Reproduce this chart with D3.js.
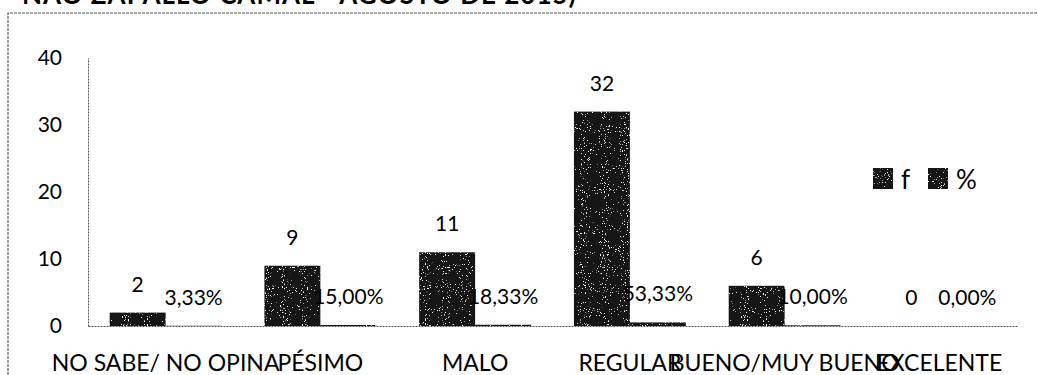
<!DOCTYPE html>
<html>
<head>
<meta charset="utf-8">
<script src="https://cdn.jsdelivr.net/npm/d3@7"></script>
<style>
  html, body { margin: 0; padding: 0; background: #fff; }
  svg { display: block; }
  text { font-family: Lato, "Open Sans", sans-serif; fill: #000; }
</style>
</head>
<body>
<svg id="chart" width="1038" height="375"></svg>
<script>
// Survey answers and their counts / shares
const categories = ["NO SABE/ NO OPINA", "PÉSIMO", "MALO", "REGULAR", "BUENO/MUY BUENO", "EXCELENTE"];
const freq = [2, 9, 11, 32, 6, 0];
const pct = [0.0333, 0.15, 0.1833, 0.5333, 0.10, 0.0];
const series = ["f", "%"];
const yTicks = [0, 10, 20, 30, 40];
const titleText = "ÑAO ZAPALLO CAMAL - AGOSTO DE 2015)";

const svg = d3.select("#chart");
const W = 1038, H = 375;
const plot = { left: 88, right: 1017, top: 58, bottom: 326 };

// Grainy print-like texture for the bars
const defs = svg.append("defs");
const grain = defs.append("filter").attr("id", "grain")
  .attr("x", 0).attr("y", 0).attr("width", 1).attr("height", 1);
grain.append("feTurbulence").attr("type", "fractalNoise")
  .attr("baseFrequency", 0.95).attr("numOctaves", 2).attr("seed", 4).attr("result", "noise");
grain.append("feColorMatrix").attr("in", "noise").attr("type", "matrix")
  .attr("values", "0 0 0 0 1  0 0 0 0 1  0 0 0 0 1  14 0 0 0 -9.4").attr("result", "dots");
grain.append("feComposite").attr("in", "dots").attr("in2", "SourceGraphic")
  .attr("operator", "in").attr("result", "spk");
grain.append("feMerge").call(m => {
  m.append("feMergeNode").attr("in", "SourceGraphic");
  m.append("feMergeNode").attr("in", "spk");
});

// Chart frame (top and left edge visible)
svg.append("path")
  .attr("d", `M8,${H} L8,13 L${W},13`)
  .attr("fill", "none").attr("stroke", "#555").attr("stroke-width", 1.2)
  .attr("stroke-dasharray", "3,1");

// Title line running off the top edge
svg.append("text")
  .attr("x", 22).attr("y", 4)
  .attr("font-size", 26).attr("font-weight", "bold")
  .attr("letter-spacing", 1)
  .text(titleText);

// Scales
const x0 = d3.scaleBand().domain(categories)
  .range([plot.left, plot.right]).paddingInner(0.277).paddingOuter(0.14);
const x1 = d3.scaleBand().domain(series).range([0, x0.bandwidth()]);
const y = d3.scaleLinear().domain([0, 40]).range([plot.bottom, plot.top]);

// Y axis: labels only, plus the axis line
const yAxis = d3.axisLeft(y).tickValues(yTicks).tickSize(0).tickPadding(26).tickFormat(d3.format("d"));
const gy = svg.append("g").attr("transform", `translate(${plot.left},0)`).call(yAxis);
gy.select(".domain").attr("stroke", "#555").attr("stroke-dasharray", "2,1");
gy.selectAll("text").attr("font-size", 21).attr("font-family", "Lato, sans-serif").attr("fill", "#000");

// X axis line and category labels
const xAxis = d3.axisBottom(x0).tickSize(0).tickPadding(29);
const gx = svg.append("g").attr("transform", `translate(0,${plot.bottom})`).call(xAxis);
gx.select(".domain").attr("stroke", "#555").attr("stroke-dasharray", "2,1");
gx.selectAll("text").attr("font-size", 23).attr("font-family", "Lato, sans-serif").attr("fill", "#000");

// Bars
const rows = categories.map((c, i) => ({ cat: c, vals: [
  { key: "f", v: freq[i], label: String(freq[i]) },
  { key: "%", v: pct[i], label: d3.format(".2f")(pct[i] * 100).replace(".", ",") + "%" }
]}));

const groups = svg.append("g").selectAll("g").data(rows).join("g")
  .attr("transform", d => `translate(${x0(d.cat)},0)`);

groups.selectAll("rect").data(d => d.vals).join("rect")
  .attr("x", d => x1(d.key))
  .attr("y", d => y(d.v))
  .attr("width", x1.bandwidth())
  .attr("height", d => plot.bottom - y(d.v))
  .attr("fill", "#141414")
  .attr("filter", "url(#grain)");

// Value labels above each bar
groups.selectAll("text.val").data(d => d.vals).join("text")
  .attr("class", "val")
  .attr("x", d => x1(d.key) + x1.bandwidth() / 2)
  .attr("y", d => y(d.v) - 21)
  .attr("text-anchor", "middle")
  .attr("font-size", 21)
  .text(d => d.label);

// Legend
const legend = svg.append("g").attr("transform", "translate(873,168)");
const legendX = [0, 55];
series.forEach((s, i) => {
  legend.append("rect").attr("x", legendX[i]).attr("y", 0)
    .attr("width", 20).attr("height", 21).attr("fill", "#141414").attr("filter", "url(#grain)");
  legend.append("text").attr("x", legendX[i] + 28).attr("y", 21)
    .attr("font-size", 26).text(s);
});
</script>
</body>
</html>
